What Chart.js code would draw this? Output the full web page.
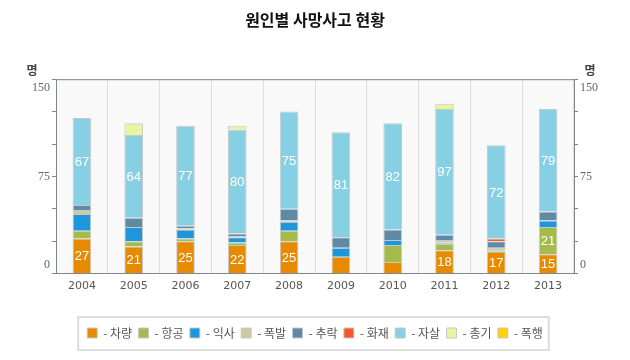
<!DOCTYPE html>
<html>
<head>
<meta charset="utf-8">
<script src="https://cdn.jsdelivr.net/npm/chart.js@4"></script>
<style>
  body { margin: 0; background: #fff; }
</style>
</head>
<body>
<canvas id="deathChart" width="630" height="360"></canvas>
<script>
// 연도
const years = ['2004', '2005', '2006', '2007', '2008', '2009', '2010', '2011', '2012', '2013'];

// 원인별 사망자 수 (명)
const vehicle  = [27, 21, 25, 22, 25, 13,  9, 18, 17, 15]; // 차량
const aviation = [ 6,  4,  2,  2,  8,  0, 13,  5,  0, 21]; // 항공
const drowning = [13, 11,  7,  4,  7,  7,  4,  1,  1,  5]; // 익사
const explosion= [ 3,  0,  1,  1,  1,  0,  0,  2,  2,  0]; // 폭발
const falling  = [ 4,  7,  2,  2,  9,  8,  8,  4,  5,  7]; // 추락
const fire     = [ 0,  0,  0,  0,  0,  0,  0,  0,  2,  0]; // 화재
const suicide  = [67, 64, 77, 80, 75, 81, 82, 97, 72, 79]; // 자살
const firearm  = [ 0,  8,  0,  3,  0,  0,  0,  4,  0,  0]; // 총기
const assault  = [ 0,  1,  0,  0,  0,  0,  0,  0,  0,  0]; // 폭행

const yTickLabels = [0, 75, 150];

const series = [
    { label: '차량', data: vehicle,   color: '#e68a00' },
    { label: '항공', data: aviation,  color: '#a5bb4b' },
    { label: '익사', data: drowning,  color: '#1e96dc' },
    { label: '폭발', data: explosion, color: '#cbcb9d' },
    { label: '추락', data: falling,   color: '#5f8aa5' },
    { label: '화재', data: fire,      color: '#f05a28' },
    { label: '자살', data: suicide,   color: '#87d0e3' },
    { label: '총기', data: firearm,   color: '#e6f5a0' },
    { label: '폭행', data: assault,   color: '#ffd200' }
];

const axisColor = '#80868c';

// 차트 영역 배경 + 테두리
const plotBox = {
    id: 'plotBox',
    beforeDraw(chart) {
        const { ctx, chartArea: a } = chart;
        ctx.save();
        ctx.fillStyle = '#f9f9f9';
        ctx.fillRect(a.left, a.top, a.right - a.left, a.bottom - a.top);
        ctx.restore();
    },
    afterDraw(chart) {
        const { ctx, chartArea: a } = chart;
        ctx.save();
        ctx.strokeStyle = axisColor;
        ctx.lineWidth = 1;
        ctx.beginPath();
        ctx.moveTo(a.left, a.top + 0.5);
        ctx.lineTo(a.right, a.top + 0.5);
        ctx.stroke();

        // 단위 '명'
        ctx.fillStyle = '#444';
        ctx.font = 'bold 12px "Noto Sans CJK KR"';
        ctx.textAlign = 'center';
        ctx.textBaseline = 'middle';
        ctx.fillText('명', a.left - 24, a.top - 9);
        ctx.fillText('명', a.right + 16, a.top - 9);

        // 범례 테두리
        const boxes = chart.legend.legendHitBoxes;
        if (boxes && boxes.length) {
            const l = Math.min(...boxes.map(b => b.left)) - 9;
            const r = Math.max(...boxes.map(b => b.left + b.width)) + 6;
            const cy = boxes[0].top + boxes[0].height / 2;
            ctx.strokeStyle = '#dddddd';
            ctx.lineWidth = 2;
            ctx.strokeRect(l, cy - 16, r - l, 33);
        }
        ctx.restore();
    }
};

// 막대 안 숫자
const valueLabels = {
    id: 'valueLabels',
    afterDatasetsDraw(chart) {
        const ctx = chart.ctx;
        ctx.save();
        ctx.fillStyle = '#fff';
        ctx.font = '13px "Liberation Sans"';
        ctx.textAlign = 'center';
        ctx.textBaseline = 'middle';
        chart.data.datasets.forEach((ds, i) => {
            const meta = chart.getDatasetMeta(i);
            meta.data.forEach((bar, j) => {
                const v = ds.data[j];
                if (v >= 15) {
                    ctx.fillText(String(v), bar.x, (bar.y + bar.base) / 2 + 1);
                }
            });
        });
        ctx.restore();
    }
};

function tickAxis(position) {
    return {
        position: position,
        stacked: true,
        weight: 0,
        min: 0,
        max: 150,
        ticks: { stepSize: 25, callback: () => '', padding: 0 },
        grid: { drawOnChartArea: false, tickLength: 4, color: axisColor },
        border: { color: axisColor },
        afterFit: s => { s.width = 4; }
    };
}

function labelAxis(position) {
    return {
        position: position,
        weight: 1,
        min: -7.7,
        max: 157.7,
        afterBuildTicks: s => { s.ticks = yTickLabels.map(v => ({ value: v })); },
        ticks: {
            color: '#666',
            font: { family: '"Liberation Serif"', size: 12 },
            padding: 2
        },
        grid: { display: false, drawTicks: false },
        border: { display: false },
        afterFit: s => { s.width = 52; }
    };
}

const ctx = document.getElementById('deathChart').getContext('2d');

const deathChart = new Chart(ctx, {
    type: 'bar',
    data: {
        labels: years,
        datasets: series.map(s => ({
            label: s.label,
            data: s.data,
            backgroundColor: s.color,
            borderColor: '#c8c8c8',
            borderWidth: 1,
            barPercentage: 0.36,
            categoryPercentage: 1,
            yAxisID: 'y'
        }))
    },
    options: {
        responsive: false,
        animation: false,
        layout: { padding: { top: 0, bottom: 11, left: 0, right: 0 } },
        scales: {
            x: {
                stacked: true,
                grid: { color: '#dedede', offset: true, drawTicks: false },
                border: { color: axisColor },
                ticks: { color: '#555', font: { family: '"DejaVu Sans"', size: 11 }, padding: 6 },
                afterFit: s => { s.height = 47; }
            },
            y: tickAxis('left'),
            yl: labelAxis('left'),
            yr: tickAxis('right'),
            yrl: labelAxis('right')
        },
        plugins: {
            title: {
                display: true,
                text: '원인별 사망사고 현황',
                color: '#111',
                font: { family: '"Noto Sans CJK KR"', size: 16, weight: 'bold' },
                padding: { top: 10, bottom: 50 }
            },
            legend: {
                position: 'bottom',
                labels: {
                    boxWidth: 10,
                    boxHeight: 10,
                    padding: 6.4,
                    color: '#555',
                    font: { family: '"Noto Sans CJK KR"', size: 12 },
                    generateLabels: chart => chart.data.datasets.map((ds, i) => ({
                        text: '- ' + ds.label,
                        fillStyle: ds.backgroundColor,
                        strokeStyle: '#c8c8c8',
                        lineWidth: 1,
                        fontColor: '#555',
                        datasetIndex: i
                    }))
                }
            },
            tooltip: { enabled: false }
        }
    },
    plugins: [plotBox, valueLabels]
});
</script>
</body>
</html>
